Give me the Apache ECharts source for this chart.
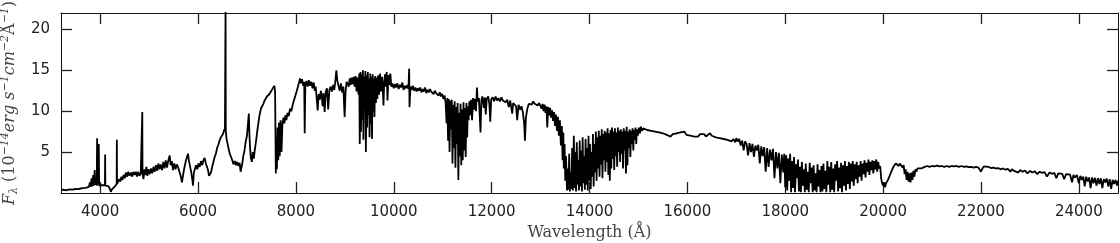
<!DOCTYPE html>
<html>
<head>
<meta charset="utf-8">
<script src="https://cdn.jsdelivr.net/npm/echarts@6/dist/echarts.min.js"></script>
<style>
  html, body { margin: 0; padding: 0; background: #fff; }
  #spectrum { width: 1120px; height: 243px; }
</style>
</head>
<body>
<div id="spectrum"></div>
<script>
// tick labels
var xTicks = [4000, 6000, 8000, 10000, 12000, 14000, 16000, 18000, 20000, 22000, 24000]
var yTicks = [5, 10, 15, 20]

// spectrum pieces: [wavelength (A), flux]
var blueArm = [
  [3205, 0.35], [3250, 0.4], [3300, 0.32], [3350, 0.42], [3400, 0.45], [3450, 0.4], [3500, 0.5], [3550, 0.48],
  [3600, 0.55], [3650, 0.6], [3700, 0.62], [3740, 0.7], [3770, 0.75], [3790, 1.3], [3800, 0.75], [3825, 1.8],
  [3835, 0.8], [3860, 2.2], [3870, 0.9], [3889, 2.8], [3898, 1.0], [3915, 1.4], [3930, 0.9], [3938, 6.7],
  [3945, 1.0], [3960, 1.1], [3968, 1.0], [3972, 6.0], [3980, 0.9], [4000, 0.9], [4030, 0.95], [4060, 0.9],
  [4098, 0.95], [4102, 4.7], [4106, 0.9], [4140, 0.95], [4170, 0.85], [4195, 0.55], [4218, 0.15], [4240, 0.45],
  [4270, 0.65], [4300, 0.8], [4325, 0.95], [4338, 1.1], [4341, 6.5], [4345, 1.1], [4367, 1.3], [4390, 1.7],
  [4410, 1.4], [4435, 2.0], [4455, 1.6], [4480, 2.2], [4504, 1.8], [4525, 2.5], [4550, 2.0], [4575, 2.6],
  [4600, 2.1], [4632, 2.5], [4655, 2.0], [4680, 2.6], [4705, 2.2], [4730, 2.6], [4755, 2.0], [4780, 2.6],
  [4805, 2.1], [4830, 2.4], [4857, 2.3], [4861, 9.9], [4866, 2.3], [4885, 1.7], [4905, 2.9], [4925, 2.2],
  [4945, 3.2], [4965, 2.1], [4990, 2.9], [5015, 2.3], [5040, 3.0], [5065, 2.4], [5090, 3.2], [5115, 2.6],
  [5140, 3.4], [5165, 2.7], [5190, 3.6], [5215, 2.9], [5240, 3.5], [5265, 2.8], [5290, 3.8], [5315, 3.0],
  [5340, 4.0], [5365, 3.1], [5390, 3.9], [5421, 4.6], [5440, 3.4], [5465, 3.9], [5489, 2.8], [5515, 3.6],
  [5540, 2.9], [5565, 3.5], [5591, 3.2]
]

var redArm = [
  [5620, 2.6], [5645, 2.1], [5672, 1.3], [5700, 2.4], [5725, 3.2], [5750, 3.9], [5775, 4.4], [5795, 4.8],
  [5815, 3.9], [5840, 3.2], [5865, 2.4], [5885, 1.6], [5897, 0.9], [5915, 2.5], [5940, 3.0], [5960, 3.4],
  [5985, 2.9], [6010, 3.6], [6035, 3.2], [6060, 3.9], [6085, 3.4], [6110, 4.0], [6135, 4.3], [6160, 3.6],
  [6182, 3.8], [6205, 2.8], [6225, 2.1], [6240, 1.9], [6265, 2.5], [6290, 3.2], [6315, 3.8], [6340, 4.4],
  [6365, 4.8], [6390, 5.5], [6415, 5.9], [6440, 6.4], [6467, 6.8], [6490, 6.6], [6510, 7.2], [6530, 7.6],
  [6550, 7.9], [6563, 23], [6567, 7.6], [6585, 6.5], [6605, 6.0], [6625, 5.4], [6650, 4.8], [6675, 4.4],
  [6700, 4.0], [6725, 3.5], [6750, 3.9], [6775, 3.4], [6800, 3.8], [6825, 3.3], [6850, 3.7], [6870, 2.6],
  [6885, 2.4], [6905, 3.6], [6925, 4.5], [6950, 5.2], [6975, 6.3], [7000, 7.0], [7020, 8.4], [7038, 9.7],
  [7050, 7.2], [7065, 5.4], [7080, 4.3], [7100, 3.8], [7120, 5.0], [7140, 4.2], [7161, 5.3], [7185, 6.3],
  [7210, 7.5], [7235, 8.6], [7260, 9.6], [7285, 10.3], [7310, 10.6], [7335, 10.9], [7360, 11.3], [7385, 11.5],
  [7410, 11.8], [7435, 11.9], [7460, 12.1], [7485, 12.3], [7510, 12.6], [7535, 12.8], [7560, 13.1], [7575, 12.4],
  [7590, 2.4], [7600, 5.0], [7612, 2.9], [7625, 8.0], [7640, 4.0], [7655, 8.6], [7670, 4.5], [7688, 8.9],
  [7706, 5.0], [7725, 8.4], [7745, 9.2], [7765, 8.5], [7785, 9.5], [7805, 8.9], [7830, 9.8], [7855, 9.4],
  [7880, 10.3], [7909, 10.0], [7935, 10.8], [7960, 11.3], [7985, 11.8], [8010, 12.3], [8037, 12.9], [8060, 13.4],
  [8085, 14.0], [8105, 13.4], [8125, 13.9], [8150, 13.1], [8170, 13.6], [8180, 7.3], [8192, 13.0], [8215, 13.7],
  [8241, 13.0], [8265, 13.8], [8290, 13.1], [8315, 13.6], [8340, 12.8], [8365, 13.5], [8385, 12.5], [8405, 13.0],
  [8425, 11.6], [8445, 10.1], [8465, 12.1], [8490, 11.4], [8510, 12.5], [8530, 11.8], [8545, 10.6], [8565, 12.2],
  [8588, 9.9], [8610, 12.4], [8635, 12.8], [8660, 10.2], [8685, 12.6], [8710, 13.0], [8735, 12.4], [8760, 13.2],
  [8785, 12.6], [8810, 13.9], [8827, 15.0], [8845, 13.8], [8870, 13.1], [8895, 12.5], [8920, 13.4], [8945, 12.3],
  [8970, 13.0], [8996, 9.3], [9015, 12.4], [9035, 13.6], [9057, 13.7], [9080, 13.0], [9100, 14.0], [9120, 13.2],
  [9140, 14.1], [9160, 13.3], [9180, 14.2], [9200, 13.0], [9220, 14.3], [9240, 12.4], [9261, 14.1], [9280, 12.0],
  [9295, 14.6], [9305, 6.0], [9320, 14.8], [9330, 7.5], [9345, 14.5], [9355, 9.0], [9370, 15.0], [9380, 6.5],
  [9395, 14.2], [9405, 10.5], [9420, 14.9], [9430, 5.0], [9445, 14.4], [9455, 8.0], [9470, 14.8], [9480, 9.5],
  [9495, 14.0], [9505, 6.8], [9520, 14.6], [9530, 8.5], [9545, 14.2], [9555, 6.6], [9570, 14.5], [9580, 10.0],
  [9595, 14.0], [9605, 9.3], [9620, 14.3], [9635, 11.0], [9650, 14.1], [9665, 11.5], [9680, 14.4], [9700, 12.0],
  [9720, 14.6], [9740, 12.4], [9760, 14.2], [9775, 12.8], [9790, 10.7], [9805, 13.6], [9820, 14.5], [9840, 13.0],
  [9855, 14.8], [9872, 11.3], [9890, 14.4], [9910, 13.2], [9930, 14.6], [9950, 13.0]
]

var jBand = [
  [9975, 13.4], [10000, 12.8], [10025, 13.3], [10050, 12.9], [10075, 13.4], [10100, 12.7], [10125, 13.2], [10150, 12.9],
  [10175, 13.5], [10200, 12.6], [10225, 13.1], [10250, 12.8], [10275, 13.2], [10300, 12.7], [10315, 15.2], [10322, 10.5],
  [10340, 13.0], [10365, 12.6], [10390, 13.1], [10415, 12.5], [10440, 12.9], [10465, 12.4], [10490, 12.8], [10515, 12.5],
  [10540, 12.9], [10565, 12.3], [10590, 12.7], [10615, 12.4], [10640, 12.9], [10665, 12.2], [10690, 12.6], [10715, 12.3],
  [10740, 12.7], [10765, 12.4], [10790, 12.6], [10815, 12.1], [10840, 12.5], [10865, 12.2], [10890, 12.4], [10915, 11.9],
  [10940, 12.3], [10965, 11.8], [10990, 12.1], [11015, 11.5], [11040, 11.9], [11060, 11.0], [11080, 8.5], [11095, 11.6],
  [11110, 6.4], [11125, 11.5], [11140, 5.0], [11155, 11.3], [11170, 7.8], [11185, 11.4], [11200, 3.6], [11215, 10.8],
  [11230, 5.5], [11245, 11.2], [11260, 3.1], [11275, 10.5], [11290, 6.0], [11305, 11.0], [11320, 1.6], [11335, 9.8],
  [11350, 4.5], [11365, 10.9], [11380, 3.4], [11395, 10.2], [11410, 4.0], [11425, 11.1], [11440, 5.2], [11455, 10.4],
  [11470, 4.4], [11485, 11.0], [11500, 6.8], [11515, 10.6], [11530, 8.9], [11545, 11.2], [11560, 9.5], [11580, 11.4],
  [11600, 8.9], [11620, 11.6], [11640, 10.2], [11660, 11.5], [11680, 10.0], [11700, 12.9], [11715, 11.2], [11740, 11.6],
  [11773, 7.4], [11790, 11.3], [11810, 11.8], [11840, 10.4], [11860, 11.7], [11880, 9.6], [11900, 11.5], [11930, 11.8],
  [11955, 10.8], [11972, 8.7], [11990, 11.4], [12020, 11.7], [12050, 11.2], [12080, 11.8], [12110, 11.3], [12140, 11.6],
  [12170, 11.2], [12200, 11.7], [12230, 11.3], [12260, 11.5], [12290, 11.1], [12320, 11.4], [12350, 10.5], [12380, 11.3],
  [12421, 9.7], [12440, 11.0], [12470, 11.2], [12500, 10.6], [12523, 8.9], [12550, 10.8], [12580, 10.2], [12610, 10.6],
  [12640, 9.8], [12665, 8.5], [12681, 6.4], [12700, 9.2], [12730, 10.3], [12760, 10.9], [12790, 11.1], [12820, 10.8],
  [12850, 11.2], [12880, 10.9], [12910, 11.1], [12940, 10.7], [12970, 11.0], [13000, 10.6], [13020, 10.3], [13040, 10.9],
  [13060, 10.0], [13080, 10.8], [13100, 9.8], [13120, 10.6], [13137, 8.0], [13155, 10.5], [13175, 9.5], [13195, 10.4],
  [13215, 9.2], [13235, 10.1], [13255, 8.8], [13275, 9.9], [13295, 8.2], [13315, 9.6], [13335, 7.6], [13355, 9.3],
  [13375, 7.0], [13395, 8.9], [13415, 5.8], [13435, 8.2], [13450, 4.0], [13465, 7.4]
]

var hBand = [
  [13475, 3.0], [13490, 6.0], [13505, 1.5], [13520, 4.5], [13540, 0.3], [13555, 3.0], [13570, 0.4], [13585, 4.8],
  [13600, 0.2], [13615, 2.5], [13630, 0.5], [13645, 5.5], [13660, 0.3], [13680, 7.0], [13695, 0.6], [13710, 5.0],
  [13725, 0.2], [13740, 6.2], [13755, 1.0], [13770, 4.0], [13785, 0.3], [13800, 6.4], [13815, 0.8], [13830, 5.2],
  [13845, 0.2], [13860, 6.8], [13875, 1.2], [13890, 4.5], [13905, 0.4], [13920, 6.6], [13935, 1.0], [13950, 5.5],
  [13965, 0.3], [13980, 7.0], [13995, 1.5], [14010, 6.0], [14025, 0.5], [14040, 5.0], [14055, 2.0], [14070, 7.2],
  [14085, 0.8], [14100, 6.0], [14115, 2.5], [14130, 7.5], [14145, 1.5], [14160, 6.8], [14175, 3.0], [14190, 7.6],
  [14205, 2.0], [14220, 7.0], [14235, 3.5], [14250, 7.8], [14265, 1.8], [14280, 7.2], [14295, 4.0], [14310, 7.6],
  [14325, 2.6], [14340, 7.4], [14355, 3.8], [14370, 7.9], [14385, 2.2], [14400, 7.3], [14415, 1.5], [14430, 7.7],
  [14445, 3.0], [14460, 8.0], [14475, 4.2], [14490, 7.5], [14505, 2.8], [14520, 7.9], [14535, 4.5], [14550, 7.4],
  [14565, 3.2], [14580, 8.0], [14595, 5.0], [14610, 7.6], [14625, 3.8], [14640, 7.8], [14655, 4.8], [14670, 7.5],
  [14685, 3.0], [14700, 7.9], [14715, 5.2], [14730, 7.6], [14745, 2.4], [14760, 8.1], [14775, 3.4], [14790, 7.5],
  [14805, 5.5], [14820, 7.8], [14835, 4.4], [14850, 7.6], [14865, 6.0], [14880, 7.9], [14895, 5.2], [14910, 7.7],
  [14925, 6.5], [14940, 8.0], [14955, 6.0], [14970, 7.8], [14990, 7.0], [15010, 8.0], [15030, 7.3], [15050, 8.1],
  [15070, 7.6], [15100, 7.9], [15140, 8.1], [15180, 7.7], [15220, 7.9], [15260, 7.6], [15300, 7.8], [15340, 7.5],
  [15380, 7.7], [15420, 7.4], [15460, 7.6], [15500, 7.3], [15540, 7.5], [15580, 7.1], [15620, 7.3], [15660, 6.9],
  [15700, 7.2], [15740, 7.0], [15780, 7.3], [15820, 7.1], [15860, 7.4], [15900, 7.2], [15940, 7.5], [15980, 7.1],
  [16020, 7.3], [16060, 7.0], [16100, 7.2], [16140, 6.9], [16180, 7.1], [16220, 6.9], [16260, 7.2], [16300, 7.0],
  [16340, 7.2], [16380, 6.9], [16420, 7.1], [16460, 7.3], [16500, 7.0], [16540, 7.1], [16580, 6.8], [16620, 7.0],
  [16660, 6.7], [16700, 6.9], [16740, 6.6], [16780, 6.8], [16820, 6.5], [16860, 6.7], [16900, 6.3], [16940, 6.6],
  [16980, 6.2]
]

var kBand = [
  [17000, 6.7], [17030, 6.3], [17060, 6.6], [17090, 5.8], [17120, 6.4], [17150, 5.2], [17180, 6.3], [17210, 6.0],
  [17240, 4.6], [17270, 6.1], [17300, 5.0], [17330, 6.0], [17360, 4.4], [17390, 5.8], [17420, 5.2], [17450, 5.9],
  [17480, 3.6], [17510, 5.7], [17540, 4.5], [17570, 5.6], [17600, 2.6], [17630, 5.5], [17660, 3.2], [17690, 5.3],
  [17720, 4.0], [17750, 5.4], [17780, 1.8], [17810, 5.0], [17840, 3.0], [17870, 4.9], [17900, 1.2], [17930, 4.7],
  [17960, 2.5], [17980, 4.8], [18000, 0.7], [18020, 4.6], [18040, 0.3], [18060, 4.2], [18080, 1.5], [18100, 4.8],
  [18120, 0.1], [18140, 3.9], [18160, 0.6], [18180, 4.4], [18200, 0.1], [18220, 3.5], [18240, 1.8], [18260, 4.1],
  [18280, 0.2], [18300, 3.2], [18320, 0.1], [18340, 3.8], [18360, 0.9], [18380, 2.9], [18400, 0.1], [18420, 3.6],
  [18440, 0.4], [18460, 2.6], [18480, 0.1], [18500, 3.7], [18520, 1.2], [18540, 3.1], [18560, 0.1], [18580, 3.4],
  [18600, 0.3], [18620, 2.4], [18640, 0.1], [18660, 3.5], [18680, 0.8], [18700, 2.8], [18720, 0.1], [18740, 3.3],
  [18760, 0.2], [18780, 3.6], [18800, 0.5], [18820, 2.7], [18840, 0.1], [18860, 3.9], [18880, 1.0], [18900, 3.2],
  [18920, 0.1], [18940, 3.8], [18960, 0.4], [18980, 3.0], [19000, 0.1], [19020, 3.5], [19040, 1.5], [19060, 3.9],
  [19080, 0.2], [19100, 3.1], [19120, 0.6], [19140, 3.7], [19160, 0.1], [19180, 3.4], [19200, 0.9], [19220, 3.9],
  [19240, 0.3], [19260, 3.3], [19280, 1.1], [19300, 3.8], [19320, 0.5], [19340, 3.6], [19360, 1.4], [19380, 3.9],
  [19400, 0.9], [19420, 3.5], [19440, 1.7], [19460, 3.8], [19480, 1.2], [19500, 3.4], [19520, 2.0], [19540, 3.9],
  [19560, 1.5], [19580, 3.6], [19600, 2.3], [19620, 4.0], [19640, 1.9], [19660, 3.7], [19680, 2.6], [19700, 4.1],
  [19720, 2.2], [19740, 3.8], [19760, 2.8], [19780, 4.0], [19800, 2.4], [19820, 3.9], [19840, 2.9], [19860, 4.1],
  [19880, 2.6], [19900, 3.8], [19920, 3.0], [19940, 3.3], [19960, 1.8], [19980, 1.2], [20000, 0.9], [20020, 1.3],
  [20040, 0.7], [20060, 1.2], [20080, 1.0], [20100, 1.6], [20120, 1.5], [20140, 2.2], [20160, 2.1], [20180, 2.8],
  [20200, 2.9], [20220, 3.3], [20240, 3.2], [20260, 3.6], [20280, 3.4], [20300, 3.7], [20320, 3.3], [20340, 3.6],
  [20360, 3.4], [20380, 3.5], [20400, 3.1], [20420, 3.4], [20440, 2.3], [20460, 2.9], [20480, 1.6], [20500, 2.6],
  [20520, 1.4], [20540, 2.4], [20560, 1.3], [20580, 2.5], [20600, 1.6], [20620, 2.7], [20640, 2.0], [20660, 2.9],
  [20680, 2.6], [20700, 3.0], [20720, 2.9], [20740, 3.1], [20780, 3.0], [20820, 3.2], [20850, 3.2], [20900, 3.3],
  [20950, 3.2], [21000, 3.3], [21050, 3.25], [21100, 3.35], [21150, 3.25], [21200, 3.3], [21250, 3.2], [21300, 3.3],
  [21350, 3.2], [21400, 3.3], [21450, 3.25], [21500, 3.3], [21550, 3.2], [21600, 3.3], [21650, 3.2], [21700, 3.25],
  [21750, 3.15], [21800, 3.2], [21850, 3.1], [21900, 3.2], [21950, 3.1], [22000, 2.6], [22030, 3.0], [22060, 3.25],
  [22100, 3.1], [22150, 3.2], [22200, 3.05], [22250, 3.1], [22300, 3.0], [22350, 3.05], [22400, 2.9], [22450, 3.0],
  [22500, 2.85], [22550, 2.95], [22600, 2.6], [22630, 2.9], [22680, 2.7], [22720, 2.85], [22760, 2.5], [22800, 2.8],
  [22850, 2.6], [22900, 2.75], [22950, 2.4], [23000, 2.7], [23050, 2.5], [23100, 2.65], [23150, 2.3], [23200, 2.6],
  [23250, 2.45], [23300, 2.55], [23350, 2.0], [23400, 2.5], [23450, 2.35], [23500, 2.45], [23540, 1.8], [23580, 2.4],
  [23620, 2.2], [23660, 2.35], [23700, 1.7], [23740, 2.3], [23780, 2.1], [23820, 2.25], [23860, 1.3], [23890, 2.2],
  [23920, 1.9], [23960, 2.2], [24000, 1.2], [24030, 2.1], [24060, 1.6], [24090, 2.0], [24120, 0.8], [24150, 2.0],
  [24180, 1.4], [24210, 1.9], [24240, 0.6], [24270, 1.9], [24300, 1.2], [24330, 1.85], [24360, 0.9], [24390, 1.8],
  [24420, 1.1], [24450, 1.8], [24480, 0.6], [24510, 1.7], [24540, 1.3], [24570, 1.75], [24600, 0.8], [24630, 1.7],
  [24660, 0.5], [24690, 1.6], [24720, 1.1], [24750, 1.6], [24780, 0.9], [24800, 1.5]
]

var spectrum = blueArm.concat(redArm, jBand, hBand, kBand)

var chart = echarts.init(document.getElementById('spectrum'), null, { renderer: 'canvas' })

// box around the plot, ticks pointing in on all four sides
function frame () {
  return { show: true, onZero: false, lineStyle: { color: '#111', width: 1 } }
}
function ticks (values) {
  return { show: true, inside: true, length: 11, customValues: values, lineStyle: { color: '#222', width: 1.3 } }
}
function plain (v) {
  return String(v)
}

var option = {
  animation: false,
  grid: { left: 61, right: 2, top: 13, bottom: 50, outerBoundsMode: 'none' },
  xAxis: [
    {
      type: 'value',
      position: 'bottom',
      min: 3200,
      max: 24800,
      axisLine: frame(),
      axisTick: ticks(xTicks),
      axisLabel: { customValues: xTicks, formatter: plain, fontFamily: 'DejaVu Sans', fontSize: 15, color: '#222', margin: 12 },
      splitLine: { show: false },
      name: 'Wavelength (Å)',
      nameLocation: 'middle',
      nameGap: 32,
      nameTextStyle: { fontFamily: 'DejaVu Serif', fontSize: 16, color: '#444' }
    },
    {
      type: 'value',
      position: 'top',
      min: 3200,
      max: 24800,
      axisLine: frame(),
      axisTick: ticks(xTicks),
      axisLabel: { show: false },
      splitLine: { show: false }
    }
  ],
  yAxis: [
    {
      type: 'value',
      position: 'left',
      min: 0,
      max: 22,
      axisLine: frame(),
      axisTick: ticks(yTicks),
      axisLabel: { customValues: yTicks, formatter: plain, fontFamily: 'DejaVu Sans', fontSize: 15, color: '#222', margin: 11 },
      splitLine: { show: false },
      name: '{it|F}{sub|λ} (10{sup|−14}{it|erg s}{sup|−1}{it|cm}{sup|−2}Å{sup|−1})',
      nameLocation: 'middle',
      nameRotate: 90,
      nameGap: 38,
      nameTextStyle: {
        fontFamily: 'DejaVu Serif',
        fontSize: 16,
        color: '#444',
        lineHeight: 20,
        rich: {
          it: { fontFamily: 'DejaVu Serif', fontStyle: 'italic', fontSize: 16, color: '#444', lineHeight: 20 },
          sup: { fontFamily: 'DejaVu Serif', fontStyle: 'italic', fontSize: 11, color: '#444', lineHeight: 11, verticalAlign: 'top' },
          sub: { fontFamily: 'DejaVu Serif', fontStyle: 'italic', fontSize: 11, color: '#444', lineHeight: 11, verticalAlign: 'bottom' }
        }
      }
    },
    {
      type: 'value',
      position: 'right',
      min: 0,
      max: 22,
      axisLine: frame(),
      axisTick: ticks(yTicks),
      axisLabel: { show: false },
      splitLine: { show: false }
    }
  ],
  series: [
    {
      type: 'line',
      data: spectrum,
      showSymbol: false,
      clip: true,
      lineStyle: { color: '#000', width: 1.8 }
    }
  ]
}

chart.setOption(option)
</script>
</body>
</html>
